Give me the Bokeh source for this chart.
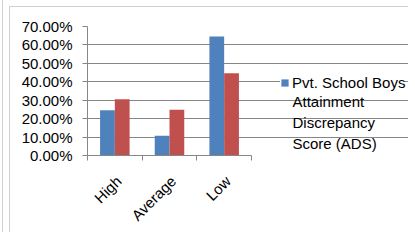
import numpy as np
from bokeh.plotting import figure
from bokeh.models import (Range1d, FixedTicker, NumeralTickFormatter, Legend, LegendItem,
                          ColumnDataSource, Label)
from bokeh.embed import file_html
from bokeh.resources import INLINE

categories = ["High", "Average", "Low"]
boys_ads = [0.245, 0.107, 0.646]
second_series = [0.305, 0.248, 0.446]
y_ticks = [0.0, 0.1, 0.2, 0.3, 0.4, 0.5, 0.6, 0.7]
legend_lines = ["Pvt. School Boys", "Attainment", "Discrepancy", "Score (ADS)"]

FONT = "Liberation Sans"
BLUE = "#4F81BD"
RED = "#C0504D"
GRID = "#868686"
FRAME = "#d0d0d0"

W, H = 408, 232
LEFT, RIGHT, TOP, BOTTOM = 87, 0, 26, 68
CAT_PX = 164  # width of the category area in px
frame_w = W - LEFT - RIGHT
n = len(categories)
x_end = n * frame_w / CAT_PX

centers = np.arange(n) + 0.5
label_pos = [float(c + 0.07) for c in centers]
bar_w = 0.27
off = 0.135

p = figure(width=W, height=H, output_backend="svg", toolbar_location=None,
           x_range=Range1d(0, x_end), y_range=Range1d(0, 0.7),
           min_border_left=LEFT, min_border_right=RIGHT, min_border_top=TOP, min_border_bottom=BOTTOM)
p.outline_line_color = None
p.background_fill_color = None
p.border_fill_color = None
g = f"linear-gradient({FRAME},{FRAME})"
p.styles = {
    "background-color": "white",
    "background-image": f"{g}, {g}, {g}",
    "background-size": f"1px {H}px, 1px {H}px, {W}px 1px",
    "background-position": "2px 0px, 9px 6px, 9px 6px",
    "background-repeat": "no-repeat, no-repeat, no-repeat",
}

src_a = ColumnDataSource(dict(x=centers - off, top=boys_ads))
src_b = ColumnDataSource(dict(x=centers + off, top=second_series))
r_a = p.vbar(x="x", top="top", width=bar_w, bottom=0, source=src_a, fill_color=BLUE, line_color=None)
r_b = p.vbar(x="x", top="top", width=bar_w, bottom=0, source=src_b, fill_color=RED, line_color=None)

# y axis
p.yaxis.ticker = FixedTicker(ticks=y_ticks, minor_ticks=[])
p.yaxis.formatter = NumeralTickFormatter(format="0.00%")
p.yaxis.axis_line_color = GRID
p.yaxis.major_tick_line_color = GRID
p.yaxis.major_tick_out = 5
p.yaxis.major_tick_in = 0
p.yaxis.minor_tick_line_color = None
p.yaxis.major_label_standoff = 10
p.yaxis.major_label_text_font = FONT
p.yaxis.major_label_text_font_size = "15px"
p.yaxis.major_label_text_color = "#000000"

# x axis: labels near category centers, tick marks at boundaries
p.xaxis.ticker = FixedTicker(ticks=label_pos, minor_ticks=list(np.arange(n + 1)))
p.xaxis.major_label_overrides = {c: lab for c, lab in zip(label_pos, categories)}
p.xaxis.bounds = (0, n)
p.xaxis.major_tick_line_color = None
p.xaxis.minor_tick_line_color = GRID
p.xaxis.minor_tick_out = 5
p.xaxis.minor_tick_in = 0
p.xaxis.axis_line_color = GRID
p.xaxis.major_label_orientation = np.pi / 4
p.xaxis.major_label_standoff = 17
p.xaxis.major_label_text_font = FONT
p.xaxis.major_label_text_font_size = "15px"
p.xaxis.major_label_text_color = "#000000"

p.xgrid.grid_line_color = None
p.ygrid.ticker = FixedTicker(ticks=y_ticks)
p.ygrid.bounds = (0, n)
p.ygrid.grid_line_color = GRID

legend = Legend(items=[LegendItem(label=legend_lines[0], renderers=[r_a])],
                location=(193, 63), margin=0, padding=0, border_line_color=None,
                background_fill_color="white", background_fill_alpha=1.0,
                glyph_width=9, glyph_height=9, label_standoff=3,
                label_height=20, label_text_font=FONT, label_text_font_size="15px",
                label_text_color="#000000")
p.add_layout(legend)

rest = Label(x=205, y=63, x_units="screen", y_units="screen", text="\n".join(legend_lines[1:]),
             text_font=FONT, text_font_size="15px", text_color="#000000",
             text_baseline="top", text_align="left", text_line_height=1.24)
p.add_layout(rest)

open("out.html", "w").write(file_html(p, INLINE))
